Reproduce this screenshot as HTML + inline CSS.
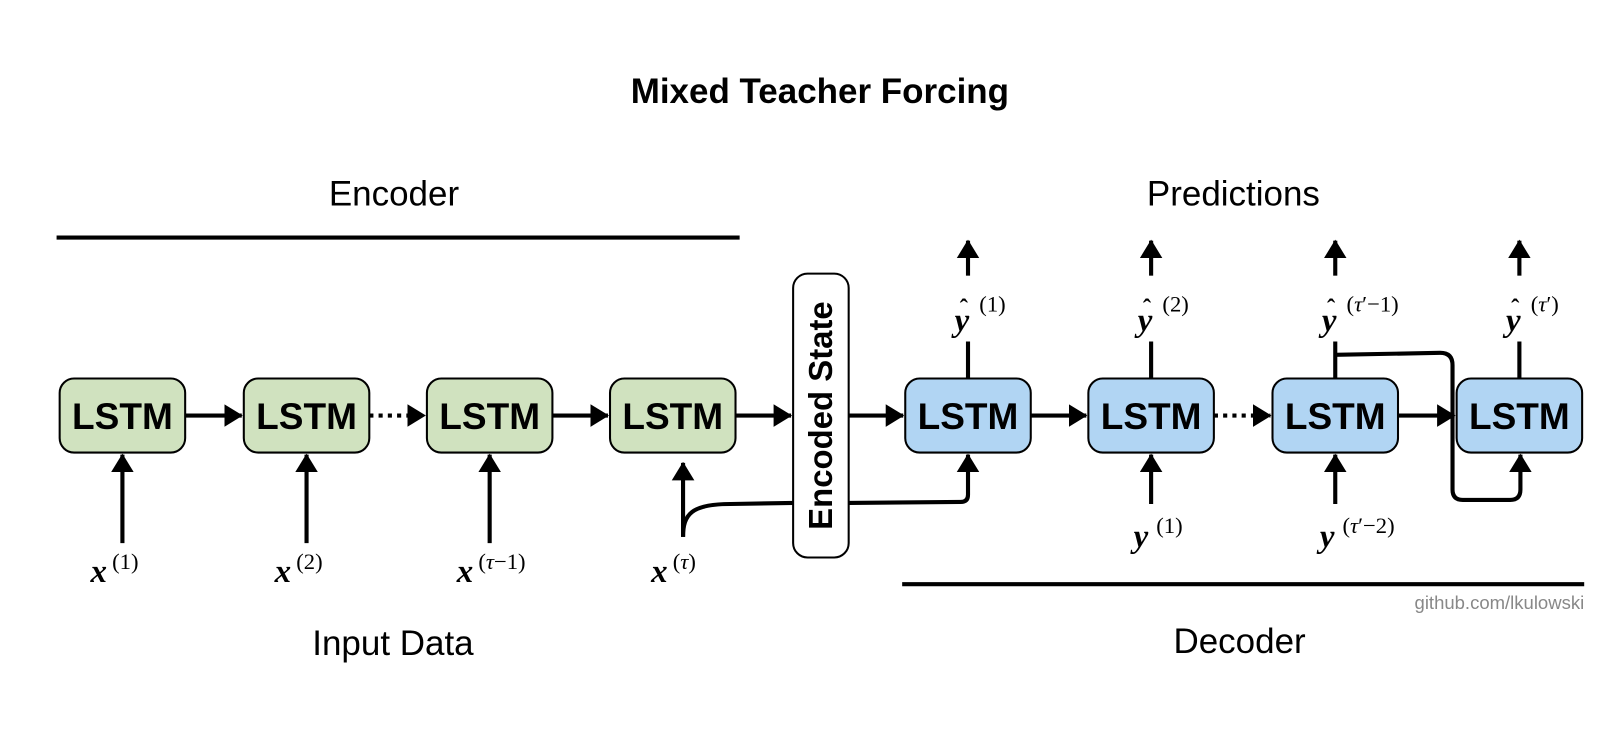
<!DOCTYPE html>
<html><head><meta charset="utf-8"><style>
html,body{margin:0;padding:0;background:#fff;}
svg{display:block;}
.t{font-family:"Liberation Sans",sans-serif;}
.m{font-family:"Liberation Serif",serif;}
</style></head><body>
<svg width="1613" height="756" viewBox="0 0 1568 735" preserveAspectRatio="none" xmlns="http://www.w3.org/2000/svg">
<defs>
<marker id="a" markerWidth="10" markerHeight="10" refX="9" refY="5" orient="auto" markerUnits="userSpaceOnUse" viewBox="0 0 10 10">
<path d="M0,0 L10,5 L0,10 z" fill="#000"/></marker>
<marker id="b" markerWidth="18" markerHeight="22" refX="17" refY="11" orient="auto" markerUnits="userSpaceOnUse" viewBox="0 0 18 22">
<path d="M0,0 L18,11 L0,22 z" fill="#000"/></marker>
</defs>
<rect width="1568" height="735" fill="#fff"/>
<text class="t" x="797" y="100" font-size="34" font-weight="bold" text-anchor="middle">Mixed Teacher Forcing</text>
<text class="t" x="383" y="200" font-size="34" text-anchor="middle">Encoder</text>
<text class="t" x="1199" y="200" font-size="34" text-anchor="middle">Predictions</text>
<line x1="55" y1="231" x2="719" y2="231" stroke="#000" stroke-width="4"/>
<line x1="877" y1="568" x2="1540" y2="568" stroke="#000" stroke-width="4"/>
<text class="t" x="382" y="637" font-size="34" text-anchor="middle">Input Data</text>
<text class="t" x="1205" y="635" font-size="34" text-anchor="middle">Decoder</text>
<text class="t" x="1540" y="592" font-size="18" fill="#888" text-anchor="end">github.com/lkulowski</text>

<g stroke="#000" stroke-width="2" font-family="Liberation Sans,sans-serif">
<rect x="58" y="368" width="122" height="72" rx="14" fill="#d0e2bf"/>
<rect x="237" y="368" width="122" height="72" rx="14" fill="#d0e2bf"/>
<rect x="415" y="368" width="122" height="72" rx="14" fill="#d0e2bf"/>
<rect x="593" y="368" width="122" height="72" rx="14" fill="#d0e2bf"/>
<rect x="880" y="368" width="122" height="72" rx="14" fill="#b1d5f3"/>
<rect x="1058" y="368" width="122" height="72" rx="14" fill="#b1d5f3"/>
<rect x="1237" y="368" width="122" height="72" rx="14" fill="#b1d5f3"/>
<rect x="1416" y="368" width="122" height="72" rx="14" fill="#b1d5f3"/>
<rect x="771" y="266" width="54" height="276" rx="14" fill="#fff"/>
</g>
<g class="t" font-size="36" font-weight="bold" text-anchor="middle">
<text x="119" y="417">LSTM</text><text x="298" y="417">LSTM</text><text x="476" y="417">LSTM</text><text x="654" y="417">LSTM</text>
<text x="941" y="417">LSTM</text><text x="1119" y="417">LSTM</text><text x="1298" y="417">LSTM</text><text x="1477" y="417">LSTM</text>
<text x="0" y="0" font-size="32" transform="translate(809,404) rotate(-90)">Encoded State</text>
</g>

<g stroke="#000" stroke-width="4" fill="none">
<line x1="180" y1="404" x2="235" y2="404" marker-end="url(#b)"/>
<line x1="359" y1="404" x2="413" y2="404" stroke-dasharray="4,5" marker-end="url(#b)"/>
<line x1="537" y1="404" x2="591" y2="404" marker-end="url(#b)"/>
<line x1="715" y1="404" x2="769" y2="404" marker-end="url(#b)"/>
<line x1="825" y1="404" x2="878" y2="404" marker-end="url(#b)"/>
<line x1="1002" y1="404" x2="1056" y2="404" marker-end="url(#b)"/>
<line x1="1180" y1="404" x2="1235" y2="404" stroke-dasharray="4,5" marker-end="url(#b)"/>
<line x1="1359" y1="404" x2="1414" y2="404" marker-end="url(#b)"/>

<line x1="119" y1="528" x2="119" y2="442" marker-end="url(#b)"/>
<line x1="298" y1="528" x2="298" y2="442" marker-end="url(#b)"/>
<line x1="476" y1="528" x2="476" y2="442" marker-end="url(#b)"/>
<line x1="664" y1="522" x2="664" y2="450" marker-end="url(#b)"/>
<path d="M664,522 C664,500 672,490 710,490 L771,489"/>
<path d="M825,489 L934,488 Q941,488 941,481 L941,442" marker-end="url(#b)"/>

<line x1="1119" y1="490" x2="1119" y2="442" marker-end="url(#b)"/>
<line x1="1298" y1="490" x2="1298" y2="442" marker-end="url(#b)"/>
<path d="M1298,345 L1400,343 Q1412,343 1412,355 L1412,476 Q1412,486 1422,486 L1468,486 Q1478,486 1478,476 L1478,442" marker-end="url(#b)"/>

<line x1="941" y1="368" x2="941" y2="332"/><line x1="941" y1="268" x2="941" y2="234" marker-end="url(#b)"/>
<line x1="1119" y1="368" x2="1119" y2="332"/><line x1="1119" y1="268" x2="1119" y2="234" marker-end="url(#b)"/>
<line x1="1298" y1="368" x2="1298" y2="332"/><line x1="1298" y1="268" x2="1298" y2="234" marker-end="url(#b)"/>
<line x1="1477" y1="368" x2="1477" y2="332"/><line x1="1477" y1="268" x2="1477" y2="234" marker-end="url(#b)"/>
</g>

<g class="m">
<text x="88" y="566" font-size="32" font-style="italic" font-weight="bold">x</text><text x="109" y="553" font-size="22">(1)</text>
<text x="267" y="566" font-size="32" font-style="italic" font-weight="bold">x</text><text x="288" y="553" font-size="22">(2)</text>
<text x="444" y="566" font-size="32" font-style="italic" font-weight="bold">x</text><text x="465" y="553" font-size="22">(<tspan font-style="italic">τ</tspan>−1)</text>
<text x="633" y="566" font-size="32" font-style="italic" font-weight="bold">x</text><text x="654" y="553" font-size="22">(<tspan font-style="italic">τ</tspan>)</text>

<text x="928" y="322" font-size="32" font-style="italic" font-weight="bold">y</text><text x="933" y="307" font-size="24" font-weight="bold">ˆ</text><text x="952" y="303" font-size="22">(1)</text>
<text x="1106" y="322" font-size="32" font-style="italic" font-weight="bold">y</text><text x="1111" y="307" font-size="24" font-weight="bold">ˆ</text><text x="1130" y="303" font-size="22">(2)</text>
<text x="1285" y="322" font-size="32" font-style="italic" font-weight="bold">y</text><text x="1290" y="307" font-size="24" font-weight="bold">ˆ</text><text x="1309" y="303" font-size="22">(<tspan font-style="italic">τ</tspan>′−1)</text>
<text x="1464" y="322" font-size="32" font-style="italic" font-weight="bold">y</text><text x="1469" y="307" font-size="24" font-weight="bold">ˆ</text><text x="1488" y="303" font-size="22">(<tspan font-style="italic">τ</tspan>′)</text>

<text x="1102" y="532" font-size="32" font-style="italic" font-weight="bold">y</text><text x="1124" y="518" font-size="22">(1)</text>
<text x="1283" y="532" font-size="32" font-style="italic" font-weight="bold">y</text><text x="1305" y="518" font-size="22">(<tspan font-style="italic">τ</tspan>′−2)</text>
</g>
</svg>
</body></html>
